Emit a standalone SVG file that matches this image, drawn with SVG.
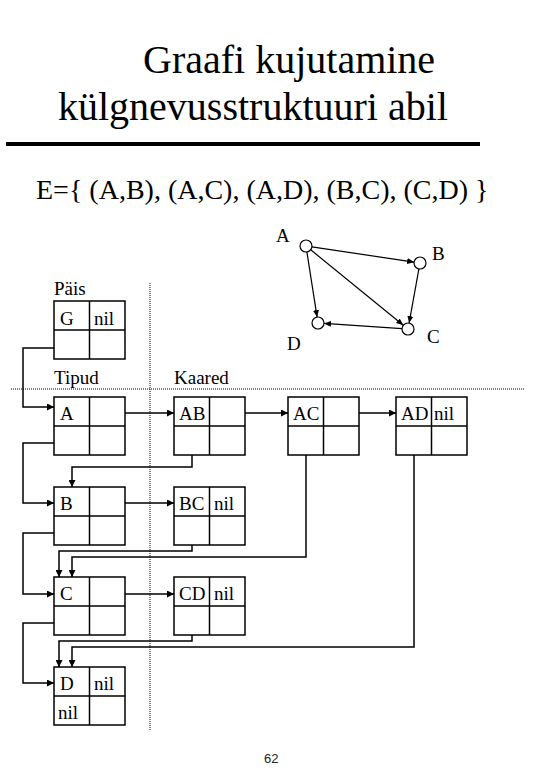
<svg xmlns="http://www.w3.org/2000/svg" width="540" height="780" viewBox="0 0 540 780">
<defs>
<style>
text{font-family:"Liberation Serif","Times New Roman",serif;fill:#000}
.t1{font-size:40px}
.t2{font-size:28px}
.lb{font-size:19px}
.box rect,.box line{fill:#fff;stroke:#000;stroke-width:1.5}
.conn path{fill:none;stroke:#000;stroke-width:1.5;marker-end:url(#ah)}
.gconn line{stroke:#000;stroke-width:1.2;marker-end:url(#ah2)}
.vert circle{fill:#fff;stroke:#000;stroke-width:1.2}
.dot{stroke:#000;stroke-width:1;stroke-dasharray:1 1}
.pg{font-family:"Liberation Sans",Arial,sans-serif;font-size:13px;fill:#222}
</style>
<marker id="ah" markerUnits="userSpaceOnUse" markerWidth="7" markerHeight="7" refX="7" refY="3.5" orient="auto"><path d="M0,0 L7,3.5 L0,7 z" fill="#000"/></marker>
<marker id="ah2" markerUnits="userSpaceOnUse" markerWidth="7" markerHeight="7" refX="7" refY="3.5" orient="auto"><path d="M0,0.5 L7,3.5 L0,6.5 z" fill="#000"/></marker>
</defs>
<rect width="540" height="780" fill="#fff"/>
<g id="title">
<text class="t1" x="143" y="73">Graafi kujutamine</text>
<text class="t1" x="58" y="120">külgnevusstruktuuri abil</text>
<line x1="6" y1="144" x2="480" y2="144" stroke="#000" stroke-width="4"/>
<text class="t2" x="36" y="199">E={ (A,B), (A,C), (A,D), (B,C), (C,D) }</text>
</g>
<g id="graph">
<g class="gconn">
<line x1="311.9" y1="246.9" x2="414.1" y2="262.1"/>
<line x1="310.7" y1="249.8" x2="403.3" y2="325.2"/>
<line x1="306.9" y1="251.9" x2="317.1" y2="317.1"/>
<line x1="418.9" y1="268.9" x2="409.1" y2="323.1"/>
<line x1="402" y1="328.6" x2="324" y2="323.4"/>
</g>
<g id="vA" class="vert"><circle cx="306" cy="246" r="6"/><text class="lb" x="276" y="242">A</text></g>
<g id="vB" class="vert"><circle cx="420" cy="263" r="6"/><text class="lb" x="432" y="260">B</text></g>
<g id="vC" class="vert"><circle cx="408" cy="329" r="6"/><text class="lb" x="427" y="343">C</text></g>
<g id="vD" class="vert"><circle cx="318" cy="323" r="6"/><text class="lb" x="287" y="350">D</text></g>
</g>
<line class="dot" x1="150" y1="283" x2="150" y2="731"/>
<line class="dot" x1="11" y1="389" x2="525" y2="389"/>
<text class="lb" x="54" y="295">Päis</text>
<text class="lb" x="54" y="384">Tipud</text>
<text class="lb" x="174" y="384">Kaared</text>
<g class="conn">
<path d="M66,348 H23 V407 H54"/>
<path d="M66,443 H23 V503 H54"/>
<path d="M66,533 H23 V594 H54"/>
<path d="M66,623 H23 V683 H54"/>
<path d="M108,413 H174"/>
<path d="M228,413 H288"/>
<path d="M342,413 H396"/>
<path d="M108,503 H174"/>
<path d="M108,594 H174"/>
<path d="M192,443 V467 H72 V487"/>
<path d="M192,534 V551 H59 V577"/>
<path d="M306,443 V557 H72 V577"/>
<path d="M192,624 V641 H59 V667"/>
<path d="M414,443 V647 H72 V667"/>
</g>
<g id="nG" class="box"><rect x="54" y="301" width="71" height="58"/><line x1="89.5" y1="301" x2="89.5" y2="359"/><line x1="54" y1="330" x2="125" y2="330"/><text class="lb" x="60" y="325">G</text><text class="lb" x="94" y="325">nil</text></g>
<g id="nA" class="box"><rect x="54" y="397" width="71" height="58"/><line x1="89.5" y1="397" x2="89.5" y2="455"/><line x1="54" y1="426" x2="125" y2="426"/><text class="lb" x="60" y="420">A</text></g>
<g id="nB" class="box"><rect x="54" y="487" width="71" height="58"/><line x1="89.5" y1="487" x2="89.5" y2="545"/><line x1="54" y1="516" x2="125" y2="516"/><text class="lb" x="60" y="510">B</text></g>
<g id="nC" class="box"><rect x="54" y="577" width="71" height="58"/><line x1="89.5" y1="577" x2="89.5" y2="635"/><line x1="54" y1="606" x2="125" y2="606"/><text class="lb" x="60" y="600">C</text></g>
<g id="nD" class="box"><rect x="54" y="667" width="71" height="58"/><line x1="89.5" y1="667" x2="89.5" y2="725"/><line x1="54" y1="696" x2="125" y2="696"/><text class="lb" x="60" y="690">D</text><text class="lb" x="94" y="690">nil</text><text class="lb" x="58" y="719">nil</text></g>
<g id="nAB" class="box"><rect x="174" y="397" width="71" height="58"/><line x1="209.5" y1="397" x2="209.5" y2="455"/><line x1="174" y1="426" x2="245" y2="426"/><text class="lb" x="179" y="420">AB</text></g>
<g id="nAC" class="box"><rect x="288" y="397" width="71" height="58"/><line x1="323.5" y1="397" x2="323.5" y2="455"/><line x1="288" y1="426" x2="359" y2="426"/><text class="lb" x="293" y="420">AC</text></g>
<g id="nAD" class="box"><rect x="396" y="397" width="71" height="58"/><line x1="431.5" y1="397" x2="431.5" y2="455"/><line x1="396" y1="426" x2="467" y2="426"/><text class="lb" x="401" y="420">AD</text><text class="lb" x="434" y="420">nil</text></g>
<g id="nBC" class="box"><rect x="174" y="487" width="71" height="58"/><line x1="209.5" y1="487" x2="209.5" y2="545"/><line x1="174" y1="516" x2="245" y2="516"/><text class="lb" x="179" y="510">BC</text><text class="lb" x="214" y="510">nil</text></g>
<g id="nCD" class="box"><rect x="174" y="577" width="71" height="58"/><line x1="209.5" y1="577" x2="209.5" y2="635"/><line x1="174" y1="606" x2="245" y2="606"/><text class="lb" x="179" y="600">CD</text><text class="lb" x="214" y="600">nil</text></g>
<text class="pg" x="264" y="763">62</text>
</svg>
